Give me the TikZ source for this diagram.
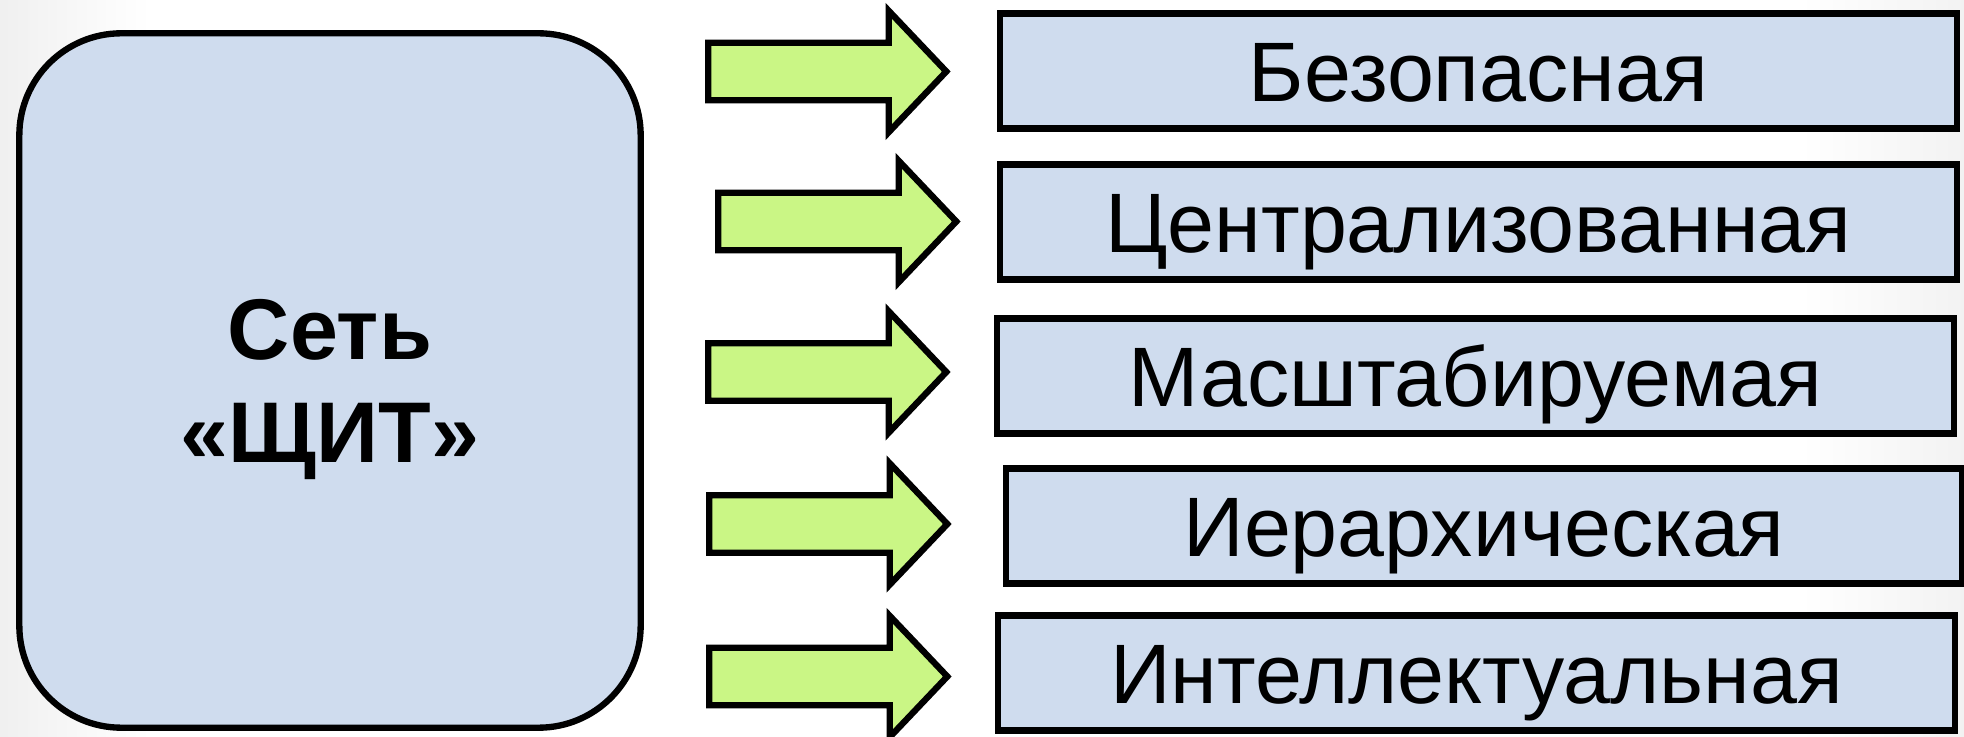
\documentclass[tikz,border=0pt]{standalone}
\usepackage{fontspec}
\setmainfont{Liberation Sans}
\usetikzlibrary{shapes.arrows}

\definecolor{boxblue}{RGB}{207,220,238}
\definecolor{arrowgreen}{RGB}{202,246,133}

\begin{document}
\begin{tikzpicture}[x=0.01cm, y=-0.01cm,
    prop/.style={rectangle, draw, line width=1.8pt, fill=boxblue, minimum width=9.56cm, minimum height=1.15cm, inner sep=0pt, text height=0.61cm, text depth=0pt, font=\fontsize{24}{28}\selectfont},
    fat/.style={single arrow, draw, line width=1.8pt, fill=arrowgreen, single arrow head extend=0.32cm, single arrow tip angle=93, inner sep=0pt, inner ysep=0.255cm, minimum height=2.38cm, anchor=tail}]
    \useasboundingbox (0,0) rectangle (1964,737);
    \fill[white] (0,0) rectangle (1964,737);
    \shade[left color=black!6, right color=white] (0,0) rectangle (150,737);
    \shade[left color=white, right color=black!5] (1800,0) rectangle (1964,737);

    \node[draw, line width=1.8pt, fill=boxblue, rounded corners=1.02cm, minimum width=6.21cm, minimum height=6.94cm, align=center, text depth=0pt, font=\bfseries\fontsize{24.5}{29.3}\selectfont] (net) at (330,380.5) {Сеть\\«ЩИТ»};

    \node[prop] (safe) at (1478.5,71) {Безопасная};
    \node[prop] (central) at (1478.5,222) {Централизованная};
    \node[prop] (scale) at (1475.5,376) {Масштабируемая};
    \node[prop] (hier) at (1484,526) {Иерархическая};
    \node[prop] (smart) at (1476.5,673) {Интеллектуальная};

    \node[fat] (a1) at (705,71.5) {};
    \node[fat] (a2) at (715,221.5) {};
    \node[fat] (a3) at (705,372) {};
    \node[fat] (a4) at (706,524) {};
    \node[fat] (a5) at (706,676.5) {};
\end{tikzpicture}
\end{document}
